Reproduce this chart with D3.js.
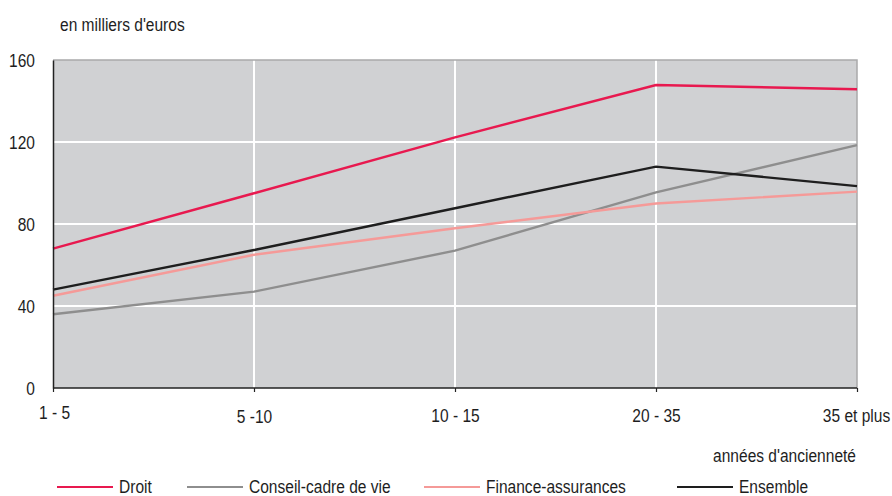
<!DOCTYPE html>
<html>
<head>
<meta charset="utf-8">
<script src="https://cdn.jsdelivr.net/npm/d3@7"></script>
<style>
  html, body { margin: 0; padding: 0; background: #fff; }
  svg { display: block; }
  text { font-family: "Liberation Sans", Arial, sans-serif; fill: #1e1e1e; }
</style>
</head>
<body>
<svg id="chart" width="892" height="496"></svg>
<script>
const categories = ["1 - 5", "5 -10", "10 - 15", "20 - 35", "35 et plus"];
const droit = [68, 95, 122.3, 147.8, 145.7];
const conseil = [36, 47, 67, 95.4, 118.5];
const finance = [45, 65, 77.9, 90, 95.8];
const ensemble = [48, 67.3, 87.7, 108, 98.5];
const yTicks = [0, 40, 80, 120, 160];
const seriesNames = ["Droit", "Conseil-cadre de vie", "Finance-assurances", "Ensemble"];
const seriesColors = ["#e8194f", "#8e8e8e", "#f59a98", "#1e1e1e"];
const seriesValues = [droit, conseil, finance, ensemble];

const FS = 18.5, NARROW = 0.84;
const svg = d3.select("#chart");
const pLeft = 53, pRight = 857, pTop = 60, pBottom = 388;

const x = d3.scalePoint().domain(categories).range([pLeft, pRight]);
const y = d3.scaleLinear().domain([0, 160]).range([pBottom, pTop]);

function narrow(sel) {
  sel.each(function() {
    const t = d3.select(this);
    const tx = +t.attr("x") || 0, ty = +t.attr("y") || 0;
    t.attr("x", 0).attr("y", 0)
     .attr("transform", `translate(${tx},${ty}) scale(${NARROW},1)`)
     .attr("font-size", FS)
     .attr("fill", "#1e1e1e")
     .style("font-family", '"Liberation Sans", Arial, sans-serif');
  });
}

// background
svg.append("rect").attr("x", pLeft).attr("y", pTop)
  .attr("width", pRight - pLeft).attr("height", pBottom - pTop)
  .attr("fill", "#d0d1d3");

// horizontal gridlines
svg.append("g").selectAll("line").data(yTicks.filter(d => d > 0 && d < 160)).join("line")
  .attr("x1", pLeft).attr("x2", pRight)
  .attr("y1", d => y(d)).attr("y2", d => y(d))
  .attr("stroke", "#fff").attr("stroke-width", 2);

// vertical gridlines
svg.append("g").selectAll("line").data(categories.slice(1, -1)).join("line")
  .attr("x1", d => x(d)).attr("x2", d => x(d))
  .attr("y1", pTop).attr("y2", pBottom)
  .attr("stroke", "#fff").attr("stroke-width", 2);

// top & right border
svg.append("path")
  .attr("d", `M${pLeft},${pTop}H${pRight}V${pBottom}`)
  .attr("fill", "none").attr("stroke", "#a9a9ab").attr("stroke-width", 1.5);

// lines
const line = d3.line().x((d, i) => x(categories[i])).y(d => y(d));
seriesValues.forEach((vals, i) => {
  svg.append("path").datum(vals)
    .attr("d", line)
    .attr("fill", "none")
    .attr("stroke", seriesColors[i])
    .attr("stroke-width", 2.4);
});

// y axis
const yAxis = svg.append("g").attr("transform", `translate(${pLeft},0)`)
  .call(d3.axisLeft(y).tickValues(yTicks).tickSize(0).tickPadding(18));
yAxis.select(".domain").attr("stroke", "#222").attr("stroke-width", 1.5);
yAxis.selectAll("text").attr("dy", null).attr("y", 6.5);
narrow(yAxis.selectAll("text"));

// x axis
const xAxis = svg.append("g").attr("transform", `translate(0,${pBottom})`)
  .call(d3.axisBottom(x).tickSize(4).tickPadding(0));
xAxis.select(".domain").attr("stroke", "#222").attr("stroke-width", 1.5).attr("d", `M${pLeft},0H${pRight}`);
xAxis.selectAll(".tick line").attr("stroke", "#222").attr("stroke-width", 1.2);
xAxis.selectAll("text")
  .attr("dy", null)
  .attr("y", (d, i) => i === 0 ? 31 : (i === 1 ? 35 : 34))
  .attr("x", (d, i) => i === 0 ? 1 : (i === 4 ? -1 : 0));
narrow(xAxis.selectAll("text"));

// unit label
narrow(svg.append("text").attr("x", 60).attr("y", 31).text("en milliers d'euros"));

// x title
narrow(svg.append("text").attr("x", 856).attr("y", 462).attr("text-anchor", "end")
  .text("années d'ancienneté"));

// legend
const legendX = [57, 187, 424, 677];
const legend = svg.append("g");
seriesNames.forEach((n, i) => {
  legend.append("line")
    .attr("x1", legendX[i]).attr("x2", legendX[i] + 56)
    .attr("y1", 487).attr("y2", 487)
    .attr("stroke", seriesColors[i]).attr("stroke-width", 2);
  narrow(legend.append("text")
    .attr("x", legendX[i] + 62).attr("y", 493)
    .text(n));
});
</script>
</body>
</html>
